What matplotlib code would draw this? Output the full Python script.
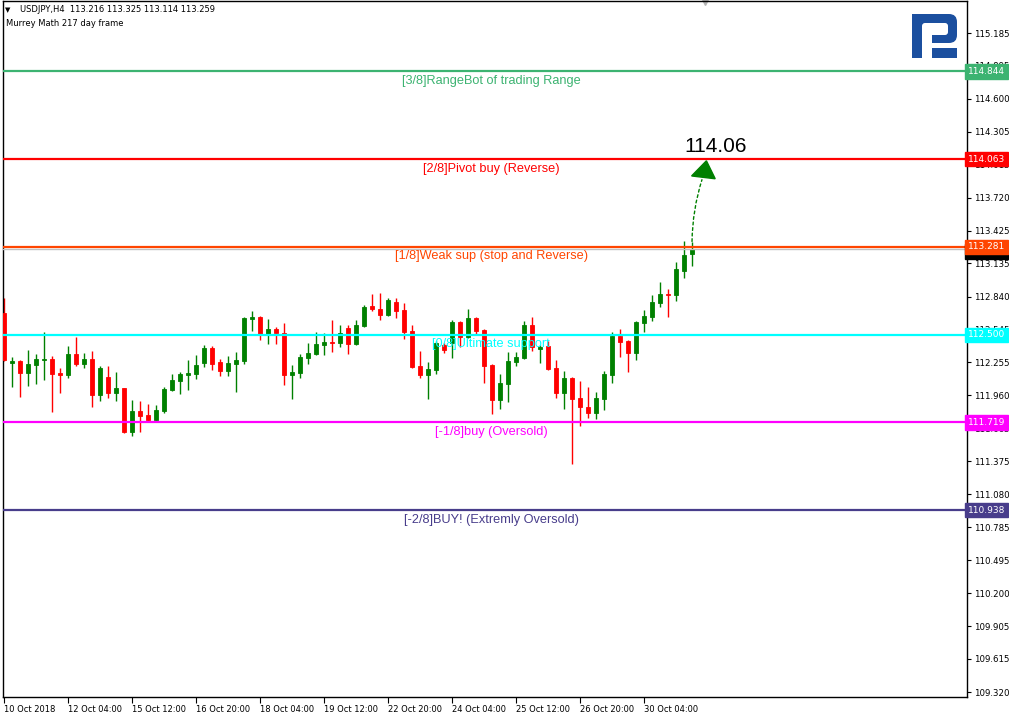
import matplotlib
matplotlib.use("Agg")
import matplotlib.pyplot as plt
import matplotlib.transforms as mtransforms
from matplotlib.patches import Polygon, Rectangle, FancyBboxPatch

# USDJPY H4 candles, 10 Oct 20:00 .. 30 Oct
opens = [112.693, 112.248, 112.266, 112.159, 112.230, 112.275, 112.284, 112.159, 112.141, 112.328,
         112.239, 112.284, 111.964, 112.124, 111.981, 112.026, 111.634, 111.821, 111.786, 111.741,
         111.821, 112.008, 112.088, 112.141, 112.150, 112.248, 112.382, 112.257, 112.177, 112.239,
         112.266, 112.640, 112.658, 112.497, 112.551, 112.515, 112.141, 112.159, 112.293, 112.328,
         112.409, 112.435, 112.426, 112.560, 112.417, 112.578, 112.756, 112.729, 112.676, 112.791,
         112.720, 112.533, 112.222, 112.141, 112.186, 112.409, 112.426, 112.613, 112.480, 112.649,
         112.542, 112.230, 111.919, 112.061, 112.257, 112.293, 112.587, 112.373, 112.400, 112.204,
         111.981, 112.115, 111.937, 111.857, 111.803, 111.928, 112.141, 112.489, 112.444, 112.337,
         112.604, 112.658, 112.782, 112.862, 112.853, 113.067, 113.216]
highs = [112.827, 112.302, 112.275, 112.364, 112.328, 112.524, 112.311, 112.204, 112.400, 112.480,
         112.337, 112.355, 112.222, 112.222, 112.168, 112.026, 111.919, 111.910, 111.883, 111.874,
         112.035, 112.150, 112.168, 112.275, 112.320, 112.409, 112.400, 112.284, 112.311, 112.346,
         112.658, 112.711, 112.667, 112.640, 112.569, 112.604, 112.230, 112.328, 112.426, 112.524,
         112.515, 112.631, 112.587, 112.587, 112.631, 112.764, 112.862, 112.871, 112.827, 112.827,
         112.782, 112.587, 112.355, 112.257, 112.444, 112.426, 112.631, 112.622, 112.729, 112.658,
         112.551, 112.239, 112.150, 112.346, 112.346, 112.622, 112.658, 112.409, 112.444, 112.275,
         112.177, 112.124, 112.088, 112.035, 111.990, 112.177, 112.524, 112.551, 112.453, 112.622,
         112.720, 112.853, 112.969, 112.907, 113.147, 113.334, 113.325]
lows = [112.266, 112.035, 111.946, 112.044, 112.061, 112.097, 111.812, 111.981, 112.115, 112.222,
        112.204, 111.857, 111.910, 111.937, 111.910, 111.625, 111.599, 111.634, 111.723, 111.723,
        111.803, 111.999, 111.973, 112.008, 112.106, 112.213, 112.186, 112.133, 112.133, 111.990,
        112.239, 112.533, 112.453, 112.417, 112.417, 112.053, 111.928, 112.115, 112.239, 112.320,
        112.320, 112.346, 112.391, 112.328, 112.409, 112.569, 112.711, 112.631, 112.667, 112.649,
        112.462, 112.204, 112.115, 111.928, 112.150, 112.337, 112.293, 112.391, 112.471, 112.506,
        112.070, 111.795, 111.839, 111.901, 112.222, 112.284, 112.355, 112.248, 112.186, 111.937,
        111.839, 111.349, 111.688, 111.759, 111.750, 111.830, 112.070, 112.302, 112.168, 112.275,
        112.524, 112.622, 112.747, 112.658, 112.800, 113.005, 113.114]
closes = [112.275, 112.266, 112.159, 112.239, 112.284, 112.284, 112.150, 112.141, 112.328, 112.239,
          112.284, 111.964, 112.204, 111.981, 112.026, 111.634, 111.821, 111.777, 111.741, 111.830,
          112.017, 112.097, 112.150, 112.159, 112.230, 112.382, 112.239, 112.177, 112.248, 112.275,
          112.649, 112.658, 112.506, 112.551, 112.515, 112.141, 112.168, 112.302, 112.337, 112.417,
          112.435, 112.426, 112.515, 112.417, 112.587, 112.747, 112.729, 112.676, 112.809, 112.711,
          112.524, 112.213, 112.141, 112.195, 112.426, 112.364, 112.613, 112.480, 112.649, 112.533,
          112.222, 111.919, 112.070, 112.266, 112.302, 112.587, 112.391, 112.391, 112.195, 111.981,
          112.115, 111.928, 111.857, 111.803, 111.937, 112.150, 112.489, 112.435, 112.337, 112.613,
          112.667, 112.791, 112.862, 112.858, 113.085, 113.210, 113.259]

date_labels = ["10 Oct 2018", "12 Oct 04:00", "15 Oct 12:00", "16 Oct 20:00", "18 Oct 04:00",
               "19 Oct 12:00", "22 Oct 20:00", "24 Oct 04:00", "25 Oct 12:00", "26 Oct 20:00",
               "30 Oct 04:00"]
bars_per_label = 8

price_ticks = [115.185, 114.895, 114.600, 114.305, 114.015, 113.720, 113.425, 113.135, 112.840,
               112.545, 112.255, 111.960, 111.665, 111.375, 111.080, 110.785, 110.495, 110.200,
               109.905, 109.615, 109.320]

level_values = [114.844, 114.063, 113.281, 112.500, 111.719, 110.938]
level_names = ["[3/8]RangeBot of trading Range", "[2/8]Pivot buy (Reverse)",
               "[1/8]Weak sup (stop and Reverse)", "[0/8]Ultimate support",
               "[-1/8]buy (Oversold)", "[-2/8]BUY! (Extremly Oversold)"]
level_colors = ["#3cb371", "#ff0000", "#ff4500", "#00ffff", "#ff00ff", "#483d8b"]

bid = 113.259
target = 114.063

fig = plt.figure(figsize=(10.09, 7.14), dpi=100)
ax = fig.add_axes([3 / 1009, 17 / 714, 964 / 1009, 696 / 714])
ax.set_xlim(-0.125, 120.375)
ax.set_ylim(109.276, 115.470)

# candles
for i in range(len(opens)):
    o, h, l, c = opens[i], highs[i], lows[i], closes[i]
    col = "#008000" if c >= o else "#ff0000"
    ax.vlines(i, l, h, color=col, lw=1, zorder=2)
    ax.bar(i, abs(c - o), bottom=min(o, c), width=0.6, color=col, edgecolor=col, lw=0.6, zorder=3)

# current price line
ax.axhline(bid, color="#c0c0c0", lw=1, zorder=4)

# murrey levels
mid_x = 60.9
for val, name, col in zip(level_values, level_names, level_colors):
    ax.axhline(val, color=col, lw=1.6, zorder=5)
    ax.annotate(name, xy=(mid_x, val), xytext=(0, -2.5), textcoords="offset points",
                ha="center", va="top", color=col, fontsize=9.2, family="Liberation Sans", zorder=6)

# forecast arrow
last = len(closes) - 1
ax.annotate("", xy=(last + 1.35, target - 0.16), xytext=(last, highs[-1] - 0.02),
            arrowprops=dict(arrowstyle="-", linestyle=(0, (2, 2)), color="#008000", lw=1,
                            connectionstyle="arc3,rad=-0.08"), zorder=6)
head = Polygon([(last + 1.8, target - 0.015), (last - 0.05, target - 0.15), (last + 2.9, target - 0.175)],
               closed=True, color="#008000", zorder=7)
ax.add_patch(head)
ax.annotate(f"{target:.2f}", xy=(last + 2.9, target), xytext=(0, 5), textcoords="offset points",
            ha="center", va="baseline", fontsize=15, family="Liberation Sans", color="black")

# axes style
for s in ax.spines.values():
    s.set_color("black")
    s.set_linewidth(1)
ax.yaxis.tick_right()
ax.set_yticks(price_ticks)
ax.set_yticklabels([f"{p:.3f}" for p in price_ticks])
ax.set_xticks(range(0, len(opens), bars_per_label))
ax.set_xticklabels(date_labels, ha="left")
ax.tick_params(axis="y", direction="out", length=3, width=0.8, pad=2, labelsize=6.2)
ax.tick_params(axis="x", direction="out", length=4, width=0.8, pad=2, labelsize=6)

# price labels on the right scale
ytrans = mtransforms.blended_transform_factory(ax.transAxes, ax.transData)
ax.text(1.0012, bid - 0.02, f"{bid:.3f}", transform=ytrans, ha="left", va="center", fontsize=6.5,
        color="white", clip_on=False, zorder=8,
        bbox=dict(boxstyle="square,pad=0.3", fc="black", ec="black"))
for val, col in zip(level_values, level_colors):
    ax.text(1.0012, val, f"{val:.3f}", transform=ytrans, ha="left", va="center", fontsize=6.5,
            color="white", clip_on=False, zorder=9,
            bbox=dict(boxstyle="square,pad=0.3", fc=col, ec=col))

# shift marker at the top
ax.plot([87.6], [1.0], marker="v", color="#b4b4b4", markersize=6,
        transform=mtransforms.blended_transform_factory(ax.transData, ax.transAxes), clip_on=False)

# header
fig.text(5 / 1009, 1 - 10 / 714, "\u25bc", fontsize=5, va="center", ha="left")
fig.text(20 / 1009, 1 - 10 / 714, "USDJPY,H4  %.3f %.3f %.3f %.3f" % (opens[-1], highs[-1], lows[-1], closes[-1]),
         fontsize=6, va="center", ha="left")
fig.text(6 / 1009, 1 - 23 / 714, "Murrey Math 217 day frame", fontsize=6, va="center", ha="left")

# logo
lax = fig.add_axes([910 / 1009, 1 - 60 / 714, 50 / 1009, 48 / 714])
lax.set_xlim(0, 50)
lax.set_ylim(48, 0)
lax.axis("off")
blue = "#1b4f9f"
lax.add_patch(FancyBboxPatch((2, 2), 45, 29, boxstyle="round,pad=0,rounding_size=8", fc=blue, ec="none"))
lax.add_patch(Rectangle((2, 2), 10, 44, fc=blue, ec="none"))
lax.add_patch(FancyBboxPatch((12, 11), 26, 12, boxstyle="round,pad=0,rounding_size=3", fc="white", ec="none"))
lax.add_patch(Rectangle((12, 20), 10, 12, fc="white", ec="none"))
lax.add_patch(Rectangle((22, 36), 25, 10, fc=blue, ec="none"))

fig.savefig("out.png", dpi=100)
